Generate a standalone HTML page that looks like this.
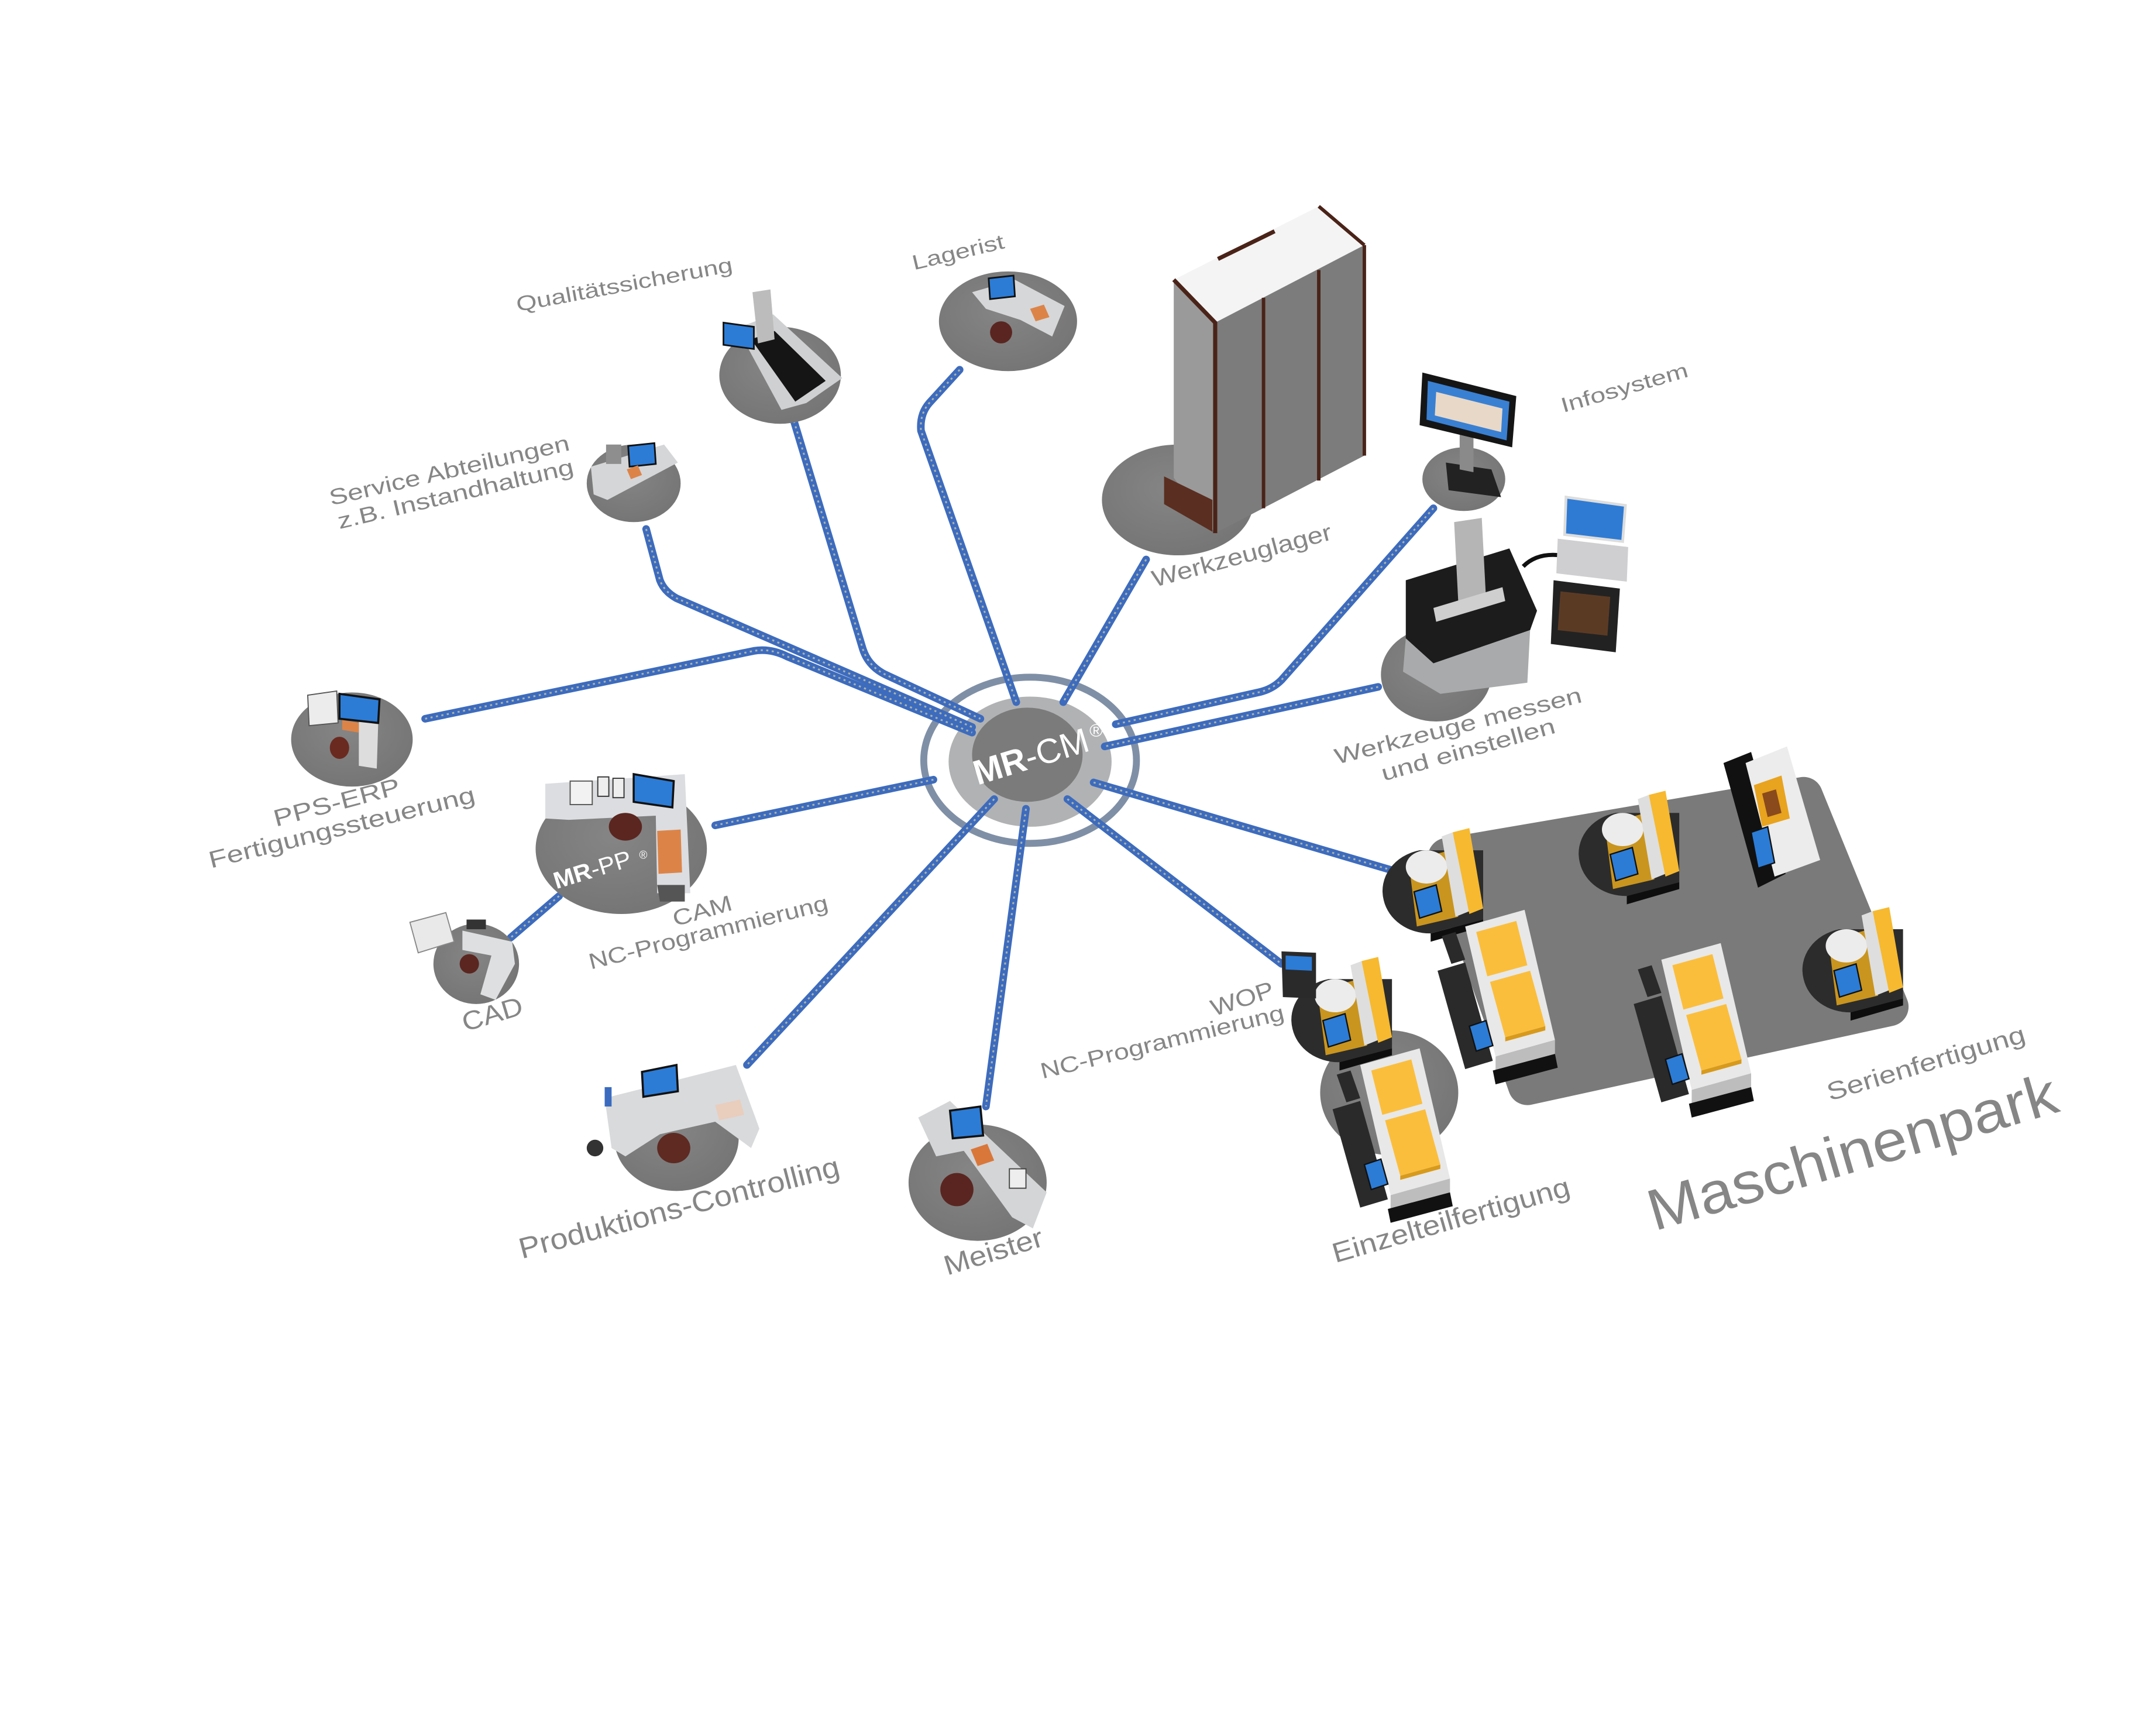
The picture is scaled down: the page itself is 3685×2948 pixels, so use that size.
<!DOCTYPE html>
<html><head><meta charset="utf-8"><style>
html,body{margin:0;padding:0;background:#fff;}
svg{display:block;}
text{font-family:"Liberation Sans",Arial,sans-serif;fill:#868686;}
</style></head><body>
<svg width="3685" height="2948" viewBox="0 0 1550 1240" preserveAspectRatio="none" xmlns="http://www.w3.org/2000/svg">
<defs>
 <radialGradient id="dg" cx="0.45" cy="0.4" r="0.7"><stop offset="0" stop-color="#858585"/><stop offset="1" stop-color="#737373"/></radialGradient>
 <g id="rm">
  <path d="M-6,-30 A34,30 0 0 0 -32,6 A34,30 0 0 0 2,30 L40,20 L40,-30 Z" fill="#2c2c2c"/>
  <path d="M2,30 L40,20 L40,25 L2,36 Z" fill="#0e0e0e"/>
  <path d="M-14,-22 L16,-30 L22,18 L-8,25 Z" fill="#c9951f"/>
  <ellipse cx="-1" cy="-18" rx="15" ry="12" fill="#ececec"/>
  <path d="M10,-40 L18,-43 L30,14 L20,18 Z" fill="#dedede"/>
  <path d="M18,-43 L30,-46 L40,12 L30,16 Z" fill="#f6b92f"/>
  <path d="M-10,0 L6,-5 L10,14 L-6,19 Z" fill="#2c7cd6" stroke="#111" stroke-width="1"/>
 </g>
 <g id="bm">
  <path d="M-45,-10 L-25,-16 L-5,55 L-25,61 Z" fill="#2a2a2a"/>
  <path d="M-32,-38 L-25,-18 L-35,-15 L-42,-35 Z" fill="#2a2a2a"/>
  <path d="M-25,-42 L18,-54 L40,40 L-3,52 Z" fill="#e8e8e8"/>
  <path d="M-3,52 L40,40 L40,50 L-3,62 Z" fill="#bdbdbd"/>
  <path d="M-17,-38 L12,-46 L20,-14 L-9,-6 Z" fill="#fbbe3c"/>
  <path d="M-7,-2 L22,-10 L33,30 L4,38 Z" fill="#fbbe3c"/>
  <path d="M4,38 L33,30 L33,33 L4,41 Z" fill="#d79a1c"/>
  <path d="M-22,30 L-10,26 L-5,44 L-17,48 Z" fill="#2c7cd6" stroke="#111" stroke-width="1"/>
  <path d="M-5,62 L40,50 L42,60 L-3,72 Z" fill="#111"/>
 </g>
 <g id="lines" fill="none">
  <path d="M310,520 L548,471 Q560,469 572,475 L706,530"/>
  <path d="M470,383 L480,420 Q483,428 492,433 L706,526"/>
  <path d="M577,305 L627,470 Q631,482 643,488 L712,520"/>
  <path d="M697,268 L675,292 Q668,300 669,312 L738,508"/>
  <path d="M832,405 L772,508"/>
  <path d="M1040,368 L930,492 Q923,499 913,501 L810,524"/>
  <path d="M1000,497 L802,540"/>
  <path d="M794,566 L1012,630"/>
  <path d="M775,578 L930,697"/>
  <path d="M745,585 L716,800"/>
  <path d="M722,578 L543,770"/>
  <path d="M678,564 L520,597"/>
  <path d="M407,648 L372,678"/>
 </g>
</defs>
<g transform="translate(-2.2,-1) scale(0.993,0.9955)">

<!-- hub base -->
<ellipse cx="748" cy="550" rx="77" ry="60" fill="none" stroke="#7f8fa6" stroke-width="5"/>
<ellipse cx="748" cy="551" rx="59" ry="47" fill="#b1b2b4"/>

<!-- connectors -->
<use href="#lines" stroke="#3d6bbd" stroke-width="5.5" stroke-linecap="round" stroke-linejoin="round"/>
<use href="#lines" stroke="#cfcca0" stroke-width="1.3" stroke-dasharray="1.5 2.5" opacity="0.75"/>

<ellipse cx="746" cy="546" rx="40" ry="34" fill="#7b7b7b"/>
<text x="710" y="568" transform="rotate(-17 710 568)" font-size="25" style="fill:#fff" textLength="86" lengthAdjust="spacingAndGlyphs"><tspan font-weight="bold">MR</tspan>-CM</text>
<text x="791" y="533" font-size="13" style="fill:#fff">®</text>

<!-- Qualitätssicherung -->
<ellipse cx="567" cy="272" rx="44" ry="35" fill="url(#dg)"/>
<path d="M536,238 L562,228 L612,274 L586,292 L568,297 Z" fill="#cfd0d2"/>
<path d="M546,246 L563,240 L600,276 L578,291 Z" fill="#151515"/>
<path d="M547,212 L560,210 L563,246 L551,249 Z" fill="#bcbcbc"/>
<path d="M526,234 L548,237 L548,253 L526,250 Z" fill="#2c7cd6" stroke="#111" stroke-width="1.2"/>

<!-- Lagerist -->
<ellipse cx="732" cy="233" rx="50" ry="36" fill="url(#dg)"/>
<path d="M706,212 L737,203 L773,222 L764,244 L741,232 L716,224 Z" fill="#d6d7d9"/>
<path d="M718,202 L736,200 L737,215 L719,217 Z" fill="#2c7cd6" stroke="#111" stroke-width="1.2"/>
<ellipse cx="727" cy="241" rx="8" ry="8" fill="#5a2520"/>
<path d="M748,224 L758,221 L762,230 L752,233 Z" fill="#dc8448"/>

<!-- Service -->
<ellipse cx="461" cy="350" rx="34" ry="28" fill="url(#dg)"/>
<path d="M430,338 L483,322 L493,335 L442,362 L432,358 Z" fill="#d5d6d8"/>
<path d="M457,323 L476,321 L477,336 L458,338 Z" fill="#2c7cd6" stroke="#111" stroke-width="1.2"/>
<rect x="441" y="322" width="11" height="14" fill="#8e8e8e"/>
<path d="M456,340 L464,337 L467,344 L459,347 Z" fill="#dc8448"/>

<!-- PPS-ERP -->
<ellipse cx="257" cy="535" rx="44" ry="34" fill="url(#dg)"/>
<path d="M225,503 L246,500 L247,523 L226,525 Z" fill="#ececec" stroke="#555" stroke-width="0.8"/>
<path d="M262,522 L276,524 L275,556 L262,554 Z" fill="#dddddd"/>
<path d="M248,502 L277,506 L276,523 L248,520 Z" fill="#2c7cd6" stroke="#111" stroke-width="1.5"/>
<path d="M250,521 L262,523 L262,530 L250,528 Z" fill="#dc8448"/>
<ellipse cx="248" cy="541" rx="7" ry="8" fill="#6a2a20"/>

<!-- MR-PP -->
<ellipse cx="452" cy="614" rx="62" ry="47" fill="url(#dg)"/>
<path d="M397,567 L498,560 L502,646 L478,646 L477,590 L414,593 L397,592 Z" fill="#dcdde0"/>
<path d="M478,601 L495,600 L496,631 L479,632 Z" fill="#dc8448"/>
<rect x="415" y="565" width="16" height="17" fill="#f2f2f2" stroke="#555" stroke-width="0.8"/>
<rect x="435" y="562" width="8" height="14" fill="#eee" stroke="#333" stroke-width="0.8"/>
<rect x="446" y="563" width="8" height="14" fill="#eee" stroke="#333" stroke-width="0.8"/>
<path d="M461,560 L490,565 L489,584 L461,580 Z" fill="#2c7cd6" stroke="#111" stroke-width="1.5"/>
<ellipse cx="455" cy="598" rx="12" ry="10" fill="#5b2620"/>
<path d="M478,640 L498,640 L498,652 L480,652 Z" fill="#555"/>
<text x="405" y="643" transform="rotate(-17 405 643)" font-size="17" style="fill:#fff" textLength="58" lengthAdjust="spacingAndGlyphs"><tspan font-weight="bold">MR</tspan>-PP</text>
<text x="465" y="621" font-size="8" style="fill:#fff">®</text>

<!-- CAD -->
<ellipse cx="347" cy="697" rx="31" ry="29" fill="url(#dg)"/>
<path d="M299,667 L325,660 L331,681 L305,689 Z" fill="#e9e9e9" stroke="#888" stroke-width="0.8"/>
<path d="M337,673 L373,681 L375,697 L361,723 L350,719 L358,691 L337,687 Z" fill="#dedfe1"/>
<rect x="340" y="665" width="14" height="7" fill="#333"/>
<ellipse cx="342" cy="697" rx="7" ry="7" fill="#5b2620"/>

<!-- Produktions-Controlling -->
<ellipse cx="492" cy="823" rx="45" ry="38" fill="url(#dg)"/>
<path d="M440,794 L535,770 L548,805 L552,816 L546,830 L520,811 L480,820 L455,836 L445,830 Z" fill="#d9dadc"/>
<path d="M467,775 L492,770 L493,789 L468,793 Z" fill="#2c7cd6" stroke="#111" stroke-width="1.5"/>
<path d="M520,799 L538,795 L541,806 L523,810 Z" fill="#e9cdbd"/>
<ellipse cx="490" cy="830" rx="12" ry="11" fill="#5e2a22"/>
<ellipse cx="433" cy="830" rx="6" ry="6" fill="#333"/>
<rect x="440" y="786" width="5" height="14" fill="#3a6bbf"/>

<!-- Meister -->
<ellipse cx="710" cy="855" rx="50" ry="42" fill="url(#dg)"/>
<path d="M667,808 L690,796 L760,862 L750,888 L735,880 L700,832 L680,836 Z" fill="#d4d5d7"/>
<path d="M690,803 L712,800 L714,821 L692,823 Z" fill="#2c7cd6" stroke="#111" stroke-width="1.5"/>
<path d="M705,831 L717,827 L722,839 L710,843 Z" fill="#d9773a"/>
<rect x="733" y="845" width="12" height="14" fill="#eee" stroke="#444" stroke-width="0.8"/>
<ellipse cx="695" cy="860" rx="12" ry="12" fill="#5a2520"/>

<!-- Werkzeuglager -->
<ellipse cx="855" cy="362" rx="55" ry="40" fill="url(#dg)"/>
<path d="M852,203 L957,150 L990,178 L882,234 Z" fill="#f4f4f4"/>
<path d="M852,203 L882,234 L882,386 L852,346 Z" fill="#9a9a9a"/>
<path d="M882,234 L990,178 L990,330 L882,386 Z" fill="#7c7c7c"/>
<path d="M852,203 L882,234 L882,386" fill="none" stroke="#4a2318" stroke-width="3"/>
<path d="M917,216 L917,368 M957,196 L957,348 M990,178 L990,330 M957,150 L990,178" fill="none" stroke="#4a2318" stroke-width="2.5"/>
<path d="M884,188 L925,168" stroke="#4a2318" stroke-width="3"/>
<path d="M845,345 L880,362 L880,385 L845,365 Z" fill="#5a2e20"/>

<!-- Infosystem -->
<ellipse cx="1062" cy="347" rx="30" ry="23" fill="url(#dg)"/>
<path d="M1049,335 L1082,340 L1089,360 L1051,355 Z" fill="#222"/>
<path d="M1059,312 L1069,314 L1069,342 L1059,340 Z" fill="#8a8a8a"/>
<path d="M1032,270 L1100,287 L1097,324 L1030,308 Z" fill="#151515"/>
<path d="M1036,276 L1095,291 L1093,319 L1035,304 Z" fill="#3a80d2"/>
<path d="M1042,284 L1090,296 L1089,313 L1041,301 Z" fill="#e8d8c8"/>

<!-- Werkzeuge messen -->
<ellipse cx="1042" cy="488" rx="40" ry="34" fill="url(#dg)"/>
<path d="M1020,420 L1095,397 L1115,442 L1110,456 L1040,480 L1020,462 Z" fill="#1c1c1c"/>
<path d="M1020,462 L1040,480 L1110,456 L1108,494 L1045,502 L1018,486 Z" fill="#a9aaac"/>
<path d="M1055,378 L1075,375 L1078,432 L1058,436 Z" fill="#b5b5b5"/>
<path d="M1040,440 L1090,425 L1092,435 L1042,450 Z" fill="#cfcfcf"/>
<path d="M1105,410 Q1115,400 1132,402" fill="none" stroke="#111" stroke-width="3"/>
<path d="M1127,420 L1175,426 L1172,472 L1125,466 Z" fill="#222"/>
<path d="M1132,428 L1168,432 L1166,460 L1130,456 Z" fill="#5b3a24"/>
<path d="M1130,390 L1181,396 L1180,421 L1129,415 Z" fill="#cfcfd1"/>
<path d="M1136,360 L1179,366 L1177,392 L1135,387 Z" fill="#2f7bd3" stroke="#ddd" stroke-width="2"/>

<!-- Maschinenpark platform -->
<path d="M1050,620 L1308,576 L1370,728 L1108,785 Z" fill="#7a7a7b" stroke="#7a7a7b" stroke-width="28" stroke-linejoin="round"/>
<!-- Einzelteil disk -->
<ellipse cx="1008" cy="790" rx="50" ry="45" fill="url(#dg)"/>

<!-- tall machine C -->
<path d="M1250,552 L1270,544 L1295,632 L1275,642 Z" fill="#111"/>
<path d="M1266,552 L1296,540 L1320,622 L1287,634 Z" fill="#ececec"/>
<path d="M1272,568 L1292,561 L1298,592 L1278,598 Z" fill="#e8a31f"/>
<path d="M1278,574 L1288,571 L1292,588 L1282,591 Z" fill="#8a4a1c"/>
<path d="M1270,602 L1282,598 L1287,624 L1275,628 Z" fill="#2c7cd6" stroke="#111" stroke-width="1"/>

<use href="#rm" transform="translate(1036,645)"/>
<use href="#rm" transform="translate(1178,618)"/>
<use href="#rm" transform="translate(1340,702)"/>
<use href="#rm" transform="translate(970,738)"/>
<use href="#bm" transform="translate(1088,712)"/>
<use href="#bm" transform="translate(1230,736)"/>
<use href="#bm" transform="translate(1012,812)"/>

<!-- WOP panel -->
<path d="M930,688 L955,689 L955,722 L931,721 Z" fill="#2a2a2a"/>
<path d="M933,691 L952,692 L952,702 L933,701 Z" fill="#2c7cd6"/>

<!-- labels -->
<text x="377" y="226" transform="rotate(-10.5 377 226)" font-size="15" textLength="159" lengthAdjust="spacingAndGlyphs">Qualitätssicherung</text>
<text x="664" y="196" transform="rotate(-13.5 664 196)" font-size="15" textLength="68" lengthAdjust="spacingAndGlyphs">Lagerist</text>
<text x="242" y="366" transform="rotate(-13 242 366)" font-size="16" textLength="178" lengthAdjust="spacingAndGlyphs">Service Abteilungen</text>
<text x="248" y="383" transform="rotate(-13.2 248 383)" font-size="16" textLength="175" lengthAdjust="spacingAndGlyphs">z.B. Instandhaltung</text>
<text x="202" y="598" transform="rotate(-14.8 202 598)" font-size="17" textLength="94" lengthAdjust="spacingAndGlyphs">PPS-ERP</text>
<text x="155" y="628" transform="rotate(-14 155 628)" font-size="17" textLength="198" lengthAdjust="spacingAndGlyphs">Fertigungssteuerung</text>
<text x="491" y="670" transform="rotate(-16 491 670)" font-size="16" textLength="44" lengthAdjust="spacingAndGlyphs">CAM</text>
<text x="430" y="701" transform="rotate(-14 430 701)" font-size="16" textLength="178" lengthAdjust="spacingAndGlyphs">NC-Programmierung</text>
<text x="339" y="746" transform="rotate(-16.8 339 746)" font-size="19" textLength="45" lengthAdjust="spacingAndGlyphs">CAD</text>
<text x="380" y="910" transform="rotate(-14.6 380 910)" font-size="21" textLength="239" lengthAdjust="spacingAndGlyphs">Produktions-Controlling</text>
<text x="688" y="922" transform="rotate(-17 688 922)" font-size="20" textLength="74" lengthAdjust="spacingAndGlyphs">Meister</text>
<text x="881" y="735" transform="rotate(-18 881 735)" font-size="17" textLength="47" lengthAdjust="spacingAndGlyphs">WOP</text>
<text x="757" y="780" transform="rotate(-13.7 757 780)" font-size="16" textLength="181" lengthAdjust="spacingAndGlyphs">NC-Programmierung</text>
<text x="969" y="913" transform="rotate(-16 969 913)" font-size="20" textLength="178" lengthAdjust="spacingAndGlyphs">Einzelteilfertigung</text>
<text x="1200" y="890" transform="rotate(-16.4 1200 890)" font-size="42" textLength="307" lengthAdjust="spacingAndGlyphs">Maschinenpark</text>
<text x="1327" y="796" transform="rotate(-16.7 1327 796)" font-size="18" textLength="149" lengthAdjust="spacingAndGlyphs">Serienfertigung</text>
<text x="838" y="425" transform="rotate(-15 838 425)" font-size="17" textLength="134" lengthAdjust="spacingAndGlyphs">Werkzeuglager</text>
<text x="1134" y="299" transform="rotate(-16 1134 299)" font-size="15" textLength="95" lengthAdjust="spacingAndGlyphs">Infosystem</text>
<text x="970" y="553" transform="rotate(-14.2 970 553)" font-size="16" textLength="184" lengthAdjust="spacingAndGlyphs">Werkzeuge messen</text>
<text x="1004" y="565" transform="rotate(-15.6 1004 565)" font-size="16" textLength="130" lengthAdjust="spacingAndGlyphs">und einstellen</text>
</g>
</svg>
</body></html>
